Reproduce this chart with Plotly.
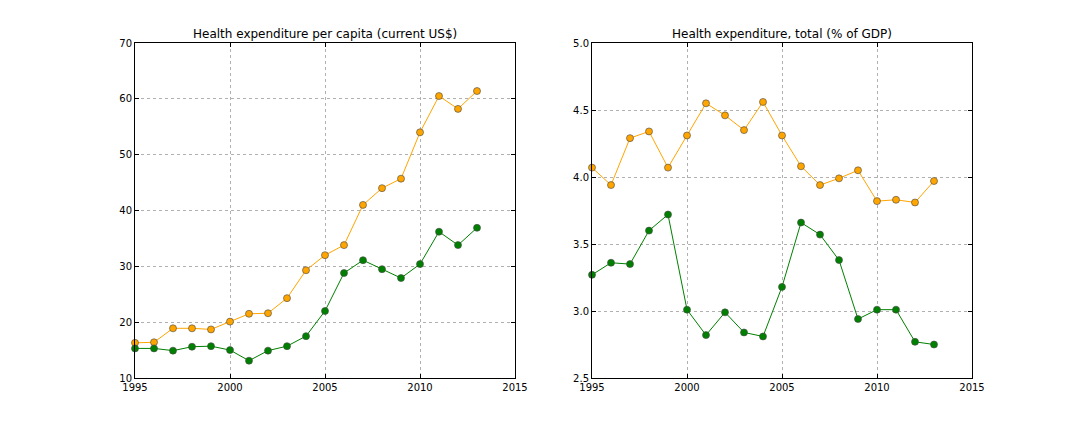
import plotly.graph_objects as go

years = list(range(1995, 2014))

percap_orange = [16.3, 16.4, 18.9, 18.9, 18.7, 20.1, 21.5, 21.6, 24.3, 29.3, 32.0, 33.8,
                 41.0, 44.0, 45.7, 54.0, 60.5, 58.2, 61.4]
percap_green = [15.3, 15.3, 14.9, 15.6, 15.7, 15.0, 13.1, 14.9, 15.7, 17.5, 22.0, 28.8,
                31.1, 29.5, 27.9, 30.4, 36.2, 33.8, 36.9]

gdp_orange = [4.07, 3.94, 4.29, 4.34, 4.07, 4.31, 4.55, 4.46, 4.35, 4.56, 4.31, 4.08,
              3.94, 3.99, 4.05, 3.82, 3.83, 3.81, 3.97]
gdp_green = [3.27, 3.36, 3.35, 3.60, 3.72, 3.01, 2.82, 2.99, 2.84, 2.81, 3.18, 3.66,
             3.57, 3.38, 2.94, 3.01, 3.01, 2.77, 2.75]

titles = ["Health expenditure per capita (current US$)", "Health expenditure, total (% of GDP)"]

fig = go.Figure()

def add(x, y, color, xa, ya):
    fig.add_trace(go.Scatter(
        x=x, y=y, mode="lines+markers", xaxis=xa, yaxis=ya,
        line=dict(color=color, width=1),
        marker=dict(color=color, size=7, line=dict(color="#444444", width=0.6)),
        showlegend=False, cliponaxis=False))

add(years, percap_orange, "orange", "x", "y")
add(years, percap_green, "green", "x", "y")
add(years, gdp_orange, "orange", "x2", "y2")
add(years, gdp_green, "green", "x2", "y2")

axis_common = dict(showline=True, linecolor="black", linewidth=1, mirror="allticks",
                   ticks="inside", ticklen=4, tickcolor="black", automargin=False,
                   showgrid=True, gridcolor="#b0b0b0", griddash="dot", gridwidth=1,
                   zeroline=False, tickfont=dict(size=10, color="black", family="DejaVu Sans"))

W, H, OFF = 1080, 432, 8
xd1 = [(135 - OFF) / W, (515 - OFF) / W]
xd2 = [(592 - OFF) / W, (972 - OFF) / W]
yd = [1 - (378 - OFF) / H, 1 - (43 - OFF) / H]

fig.update_layout(
    width=W, height=H,
    margin=dict(l=0, r=0, t=0, b=0),
    paper_bgcolor="white", plot_bgcolor="white",
    font=dict(family="DejaVu Sans", color="black"),
    xaxis=dict(domain=xd1, range=[1995, 2015], dtick=5, anchor="y", **axis_common),
    yaxis=dict(domain=yd, range=[10, 70], dtick=10, anchor="x", **axis_common),
    xaxis2=dict(domain=xd2, range=[1995, 2015], dtick=5, anchor="y2", **axis_common),
    yaxis2=dict(domain=yd, range=[2.5, 5.0], dtick=0.5, tickformat=".1f", anchor="x2", **axis_common),
    annotations=[
        dict(text=titles[0], x=sum(xd1) / 2, y=yd[1], xref="paper", yref="paper",
             xanchor="center", yanchor="bottom", yshift=0, showarrow=False,
             font=dict(size=12, color="black", family="DejaVu Sans")),
        dict(text=titles[1], x=sum(xd2) / 2, y=yd[1], xref="paper", yref="paper",
             xanchor="center", yanchor="bottom", yshift=0, showarrow=False,
             font=dict(size=12, color="black", family="DejaVu Sans")),
    ],
)

fig.write_html("out.html")
